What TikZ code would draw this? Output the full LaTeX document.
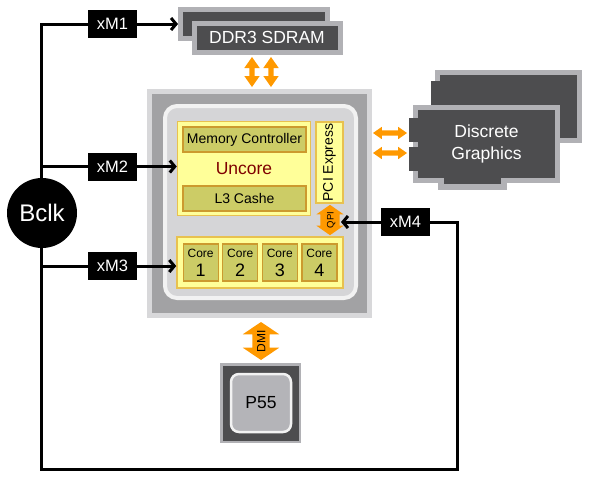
\documentclass[tikz,border=0pt]{standalone}
\usepackage{fontspec}
\setmainfont{Liberation Sans}
\usetikzlibrary{shapes.arrows,arrows.meta}
\definecolor{dkgray}{HTML}{4D4D4F}
\definecolor{ltgray}{HTML}{B1B1B5}
\definecolor{pkgout}{HTML}{D8D8DA}
\definecolor{pkgmid}{HTML}{A2A2A4}
\definecolor{diefill}{HTML}{D5D5D7}
\definecolor{dieedge}{HTML}{F2F2F2}
\definecolor{yfill}{HTML}{FFFF99}
\definecolor{yedge}{HTML}{E8C14F}
\definecolor{olive}{HTML}{CCCC66}
\definecolor{oedge}{HTML}{CC9A2E}
\definecolor{orng}{HTML}{FF9900}
\definecolor{uncred}{HTML}{7F0000}
\definecolor{pchfill}{HTML}{B4B4B8}
\begin{document}
\begin{tikzpicture}[x=1pt,y=-1pt,
  wire/.style={line width=3pt},
  tip/.style={-{Straight Barb[length=5pt,width=12pt]}},
  lbl/.style={fill=black,text=white,inner sep=0pt,minimum width=49pt,minimum height=28pt,font=\fontsize{16.5}{18}\selectfont},
  card/.style={fill=dkgray,draw=ltgray,line width=5pt,inner sep=0pt,text=white},
  ybox/.style={fill=yfill,draw=yedge,line width=1.5pt,inner sep=0pt},
  obox/.style={fill=olive,draw=oedge,line width=1.2pt,inner sep=0pt},
  dblarr/.style={double arrow,fill=orng,inner xsep=0pt,double arrow head indent=0pt}
]
\useasboundingbox (0,0) rectangle (590,480);

% memory
\node[card,minimum width=147pt,minimum height=28.5pt] (ddr1) at (254,23.75){};
\node[card,minimum width=146pt,minimum height=29.5pt,font=\fontsize{17.5}{20}\selectfont] (ddr2) at (267,37.75){DDR3 SDRAM};
\node[dblarr,rotate=90,inner ysep=2.5pt,double arrow head extend=5pt,minimum height=30pt,double arrow tip angle=70] (ddra) at (252,72){};
\node[dblarr,rotate=90,inner ysep=2.5pt,double arrow head extend=5pt,minimum height=30pt,double arrow tip angle=70] (ddrb) at (271,72){};

% processor
\node[fill=pkgmid,draw=pkgout,line width=5pt,minimum width=220pt,minimum height=224pt] (pkg) at (259.5,203.5){};
\node[fill=diefill,draw=dieedge,line width=4pt,rounded corners=12pt,minimum width=191pt,minimum height=192pt] (die) at (260.5,202){};
\node[ybox,minimum width=133pt,minimum height=94pt] (uncore) at (244,168.5){};
\node[obox,minimum width=123pt,minimum height=25pt,font=\fontsize{14}{16}\selectfont] (memc) at (244.5,139.5){Memory Controller};
\node[text=uncred,font=\fontsize{17.5}{20}\selectfont] (unc) at (244,169){Uncore};
\node[obox,minimum width=123pt,minimum height=25pt,font=\fontsize{14}{16}\selectfont] (l3) at (244.5,198.5){L3 Cashe};
\node[ybox,rotate=90,minimum width=81pt,minimum height=27pt,font=\fontsize{14}{16}\selectfont] (pci) at (329.5,162.5){PCI Express};
\node[ybox,minimum width=166pt,minimum height=51pt] (cores) at (260,262.5){};
\foreach \i in {1,...,4}
  \node[obox,minimum width=35pt,minimum height=37pt,align=center,font=\fontsize{12}{14}\selectfont] (core\i) at ({161+39.6*\i},262.5)
    {Core\\[5pt]{\fontsize{18}{18}\selectfont \i}};
\node[dblarr,rotate=90,font=\fontsize{9.5}{10}\selectfont,text height=7pt,text depth=0pt,inner ysep=6pt,double arrow head extend=4pt,minimum height=27pt,double arrow tip angle=110] (qpi) at (330,220){QPI};

% chipset
\node[dblarr,rotate=90,font=\fontsize{12}{12}\selectfont,text height=8.5pt,text depth=0pt,inner ysep=4.25pt,double arrow head extend=9.5pt,minimum height=38pt,double arrow tip angle=112] (dmi) at (261,341){DMI};
\node[fill=dkgray,draw=ltgray,line width=2.5pt,minimum width=78.5pt,minimum height=77.5pt] (p55b) at (260.5,403){};
\node[fill=pchfill,draw=dieedge,line width=2.5pt,rounded corners=8pt,minimum width=60pt,minimum height=58pt,font=\fontsize{17.5}{20}\selectfont] (p55) at (261,403){P55};

% graphics
\node[card,minimum width=142pt,minimum height=68pt] (gfx1) at (508.5,106.5){};
\fill[dkgray] (431,81) rectangle (440,108);
\fill[ltgray] (438,183) rectangle (507,189.5);
\node[card,minimum width=142pt,minimum height=73pt,align=center,font=\fontsize{17.5}{22}\selectfont] (gfx2) at (486.5,144){Discrete\\Graphics};
\fill[dkgray] (409,118) rectangle (418,142);
\fill[dkgray] (409,147) rectangle (418,171);
\fill[dkgray] (444,178) rectangle (501,184);
\node[dblarr,inner ysep=2.5pt,double arrow head extend=3.5pt,minimum height=34pt,double arrow tip angle=70] (gfxa) at (390,133){};
\node[dblarr,inner ysep=2.5pt,double arrow head extend=3.5pt,minimum height=34pt,double arrow tip angle=70] (gfxb) at (390,153){};

% clock
\coordinate (top) at (41,24);
\coordinate (bot) at (41,469);
\coordinate (botr) at (457,469);
\coordinate (rgt) at (457,222);
\coordinate (qpiin) at (341,222);
\node[lbl] (xm1) at (112.5,24){xM1};
\node[lbl] (xm2) at (112.5,166.5){xM2};
\node[lbl] (xm3) at (112.5,266){xM3};
\node[lbl] (xm4) at (405.5,222){xM4};
\draw[wire] (xm1) -- (top) -- (bot) -- (botr) -- (rgt) -- (xm4);
\draw[wire,tip] (xm1) -- (ddr1.west |- xm1);
\draw[wire] (top |- xm2) -- (xm2);
\draw[wire,tip] (xm2) -- (uncore.west |- xm2);
\draw[wire] (top |- xm3) -- (xm3);
\draw[wire,tip] (xm3) -- (cores.west |- xm3);
\draw[wire,tip] (xm4) -- (qpiin);
\node[circle,fill=black,text=white,minimum size=70pt,inner sep=0pt,font=\fontsize{24}{26}\selectfont] (bclk) at (42,213){Bclk};

\end{tikzpicture}
\end{document}
